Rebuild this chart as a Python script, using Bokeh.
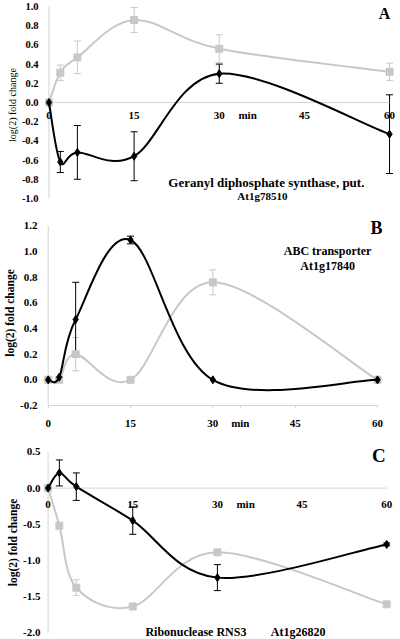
import numpy as np
from bokeh.plotting import figure
from bokeh.models import (Range1d, FixedTicker, Whisker, TeeHead,
                          ColumnDataSource, AllLabels)
from bokeh.layouts import column
from bokeh.embed import file_html
from bokeh.resources import INLINE
from bokeh.core.properties import value

# ---------------- data ----------------
TIME = [0, 2, 5, 15, 30, 60]
X_TICKS = [0, 15, 30, 45, 60]
X_TICK_LABELS = ["0", "15", "30", "45", "60"]
X_UNIT = "min"
X_UNIT_POS = 35

# Panel A  (Geranyl diphosphate synthase)
A_GRAY = [0.0, 0.31, 0.47, 0.86, 0.56, 0.32]
A_GRAY_ERR = [0.0, 0.08, 0.17, 0.13, 0.145, 0.09]
A_BLACK = [0.0, -0.62, -0.52, -0.56, 0.30, -0.33]
A_BLACK_ERR = [0.0, 0.11, 0.28, 0.255, 0.10, 0.41]
A_Y_TICKS = [-1.0, -0.8, -0.6, -0.4, -0.2, 0.0, 0.2, 0.4, 0.6, 0.8, 1.0]

# Panel B  (ABC transporter)
B_GRAY = [0.0, 0.0, 0.20, 0.0, 0.76, 0.0]
B_GRAY_ERR = [0.0, 0.0, 0.13, 0.0, 0.097, 0.0]
B_BLACK = [0.0, 0.02, 0.47, 1.09, 0.0, 0.0]
B_BLACK_ERR = [0.0, 0.0, 0.29, 0.03, 0.0, 0.0]
B_Y_TICKS = [-0.2, 0.0, 0.2, 0.4, 0.6, 0.8, 1.0, 1.2]

# Panel C  (Ribonuclease RNS3)
C_GRAY = [0.0, -0.52, -1.38, -1.64, -0.89, -1.61]
C_GRAY_ERR = [0.0, 0.0, 0.11, 0.0, 0.0, 0.0]
C_BLACK = [0.0, 0.21, 0.02, -0.45, -1.24, -0.78]
C_BLACK_ERR = [0.0, 0.18, 0.19, 0.19, 0.18, 0.02]
C_Y_TICKS = [-2.0, -1.5, -1.0, -0.5, 0.0, 0.5]

Y_TITLE = "log(2) fold change"

# ---------------- style ----------------
GRAY = "#c8c8c8"
AXIS_GRAY = "#d4d4d4"
BLACK = "#000000"
FONT = "Liberation Serif"


def smooth_ctrl(xs, ys):
    x = np.asarray(xs, float)
    y = np.asarray(ys, float)
    n = len(x)
    xp = np.concatenate([[x[0]], x, [x[-1]]])
    yp = np.concatenate([[y[0]], y, [y[-1]]])
    return dict(
        x0=x[:-1], y0=y[:-1], x1=x[1:], y1=y[1:],
        cx0=x[:-1] + (xp[2:n + 1] - xp[0:n - 1]) / 6.0,
        cy0=y[:-1] + (yp[2:n + 1] - yp[0:n - 1]) / 6.0,
        cx1=x[1:] - (xp[3:n + 2] - xp[1:n]) / 6.0,
        cy1=y[1:] - (yp[3:n + 2] - yp[1:n]) / 6.0,
    )


def add_series(p, y, err, color, marker, size):
    p.bezier(source=ColumnDataSource(smooth_ctrl(TIME, y)),
             x0="x0", y0="y0", x1="x1", y1="y1",
             cx0="cx0", cy0="cy0", cx1="cx1", cy1="cy1",
             line_color=color, line_width=2)
    idx = [i for i, e in enumerate(err) if e > 0]
    src = ColumnDataSource(dict(
        x=[TIME[i] for i in idx],
        lo=[y[i] - err[i] for i in idx],
        hi=[y[i] + err[i] for i in idx]))
    w = Whisker(source=src, base="x", lower="lo", upper="hi",
                line_color=color, line_width=1,
                upper_head=TeeHead(size=7, line_color=color, line_width=1),
                lower_head=TeeHead(size=7, line_color=color, line_width=1))
    p.add_layout(w)
    p.scatter(TIME, y, marker=marker, size=size, fill_color=color, line_color=color)


def base_fig(height, xr, yr, bl, bt, bb, br, xloc):
    p = figure(width=400, height=height, x_range=Range1d(*xr), y_range=Range1d(*yr),
               x_axis_location=xloc, y_axis_location="left",
               min_border_left=bl, min_border_top=bt, min_border_bottom=bb,
               min_border_right=br, output_backend="svg", toolbar_location=None)
    p.grid.visible = False
    p.outline_line_color = None
    p.background_fill_color = "white"
    p.border_fill_color = "white"
    return p


def style_yaxis(p, ticks, size, standoff, title_size, title_style):
    ax = p.yaxis[0]
    ax.ticker = FixedTicker(ticks=ticks)
    ax.major_label_overrides = {t: f"{t:.1f}" for t in ticks}
    ax.major_label_policy = AllLabels()
    ax.axis_line_color = None
    ax.major_tick_line_color = None
    ax.minor_tick_line_color = None
    ax.major_tick_in = 0
    ax.major_tick_out = 0
    ax.major_label_standoff = standoff
    ax.major_label_text_font = FONT
    ax.major_label_text_font_style = "bold"
    ax.major_label_text_font_size = size
    ax.major_label_text_color = BLACK
    ax.axis_label = Y_TITLE
    ax.axis_label_standoff = 1
    ax.axis_label_text_font = FONT
    ax.axis_label_text_font_style = title_style
    ax.axis_label_text_font_size = title_size
    ax.axis_label_text_color = BLACK


def txt(p, x, y, s, size, align="center", yoff=0):
    p.text(x=[x], y=[y], text=[s], text_font=value(FONT), text_font_style="bold",
           text_font_size=value(size), text_align=align, text_baseline="middle",
           text_color=BLACK, y_offset=yoff)


def inner_xlabels(p, yoff, size):
    p.text(x=X_TICKS, y=[0] * len(X_TICKS), text=X_TICK_LABELS, text_font=value(FONT),
           text_font_style="bold", text_font_size=value(size), text_align="center",
           text_baseline="middle", text_color=BLACK, y_offset=yoff)
    txt(p, X_UNIT_POS, 0, X_UNIT, size, yoff=yoff)


# ---------------- Panel A ----------------
pA = base_fig(207, (-1.142, 61.23), (-1.094, 1.0417), 41, 2, 0, 4, None)
style_yaxis(pA, A_Y_TICKS, "10.5px", 4, "10px", "normal")
pA.segment(x0=[0], y0=[A_Y_TICKS[0]], x1=[0], y1=[A_Y_TICKS[-1]], line_color=AXIS_GRAY, line_width=1)
pA.segment(x0=[X_TICKS[0]], y0=[0], x1=[X_TICKS[-1]], y1=[0], line_color=AXIS_GRAY, line_width=1)
inner_xlabels(pA, 13, "11px")
add_series(pA, A_GRAY, A_GRAY_ERR, GRAY, "square", 7)
add_series(pA, A_BLACK, A_BLACK_ERR, BLACK, "diamond", 8)
txt(pA, 59.1, 0.93, "A", "16px")
txt(pA, 38.3, -0.833, "Geranyl diphosphate synthase, put.", "13px")
txt(pA, 37.6, -0.969, "At1g78510", "11px")

# ---------------- Panel B ----------------
pB = base_fig(225, (-1.039, 63.46), (-0.2, 1.2419), 42, 13, 27, 4, "below")
style_yaxis(pB, B_Y_TICKS, "11px", 5, "11.5px", "bold")
pB.segment(x0=[0], y0=[B_Y_TICKS[0]], x1=[0], y1=[B_Y_TICKS[-1]], line_color=AXIS_GRAY, line_width=1)
xb = pB.xaxis[0]
xb.bounds = (X_TICKS[0], X_TICKS[-1])
xb.ticker = FixedTicker(ticks=sorted(X_TICKS + [X_UNIT_POS]))
xb.major_label_overrides = {X_UNIT_POS: X_UNIT}
xb.major_label_policy = AllLabels()
xb.axis_line_color = AXIS_GRAY
xb.major_tick_line_color = AXIS_GRAY
xb.minor_tick_line_color = None
xb.major_tick_in = 0
xb.major_tick_out = 3
xb.major_label_standoff = 8
xb.major_label_text_font = FONT
xb.major_label_text_font_style = "bold"
xb.major_label_text_font_size = "11px"
xb.major_label_text_color = BLACK
add_series(pB, B_GRAY, B_GRAY_ERR, GRAY, "square", 7)
add_series(pB, B_BLACK, B_BLACK_ERR, BLACK, "diamond", 8)
txt(pB, 59.8, 1.185, "B", "18px")
txt(pB, 50.9, 1.005, "ABC transporter", "12px")
txt(pB, 50.9, 0.889, "At1g17840", "12px")

# ---------------- Panel C ----------------
pC = base_fig(207, (-0.99, 61.74), (-2.097, 0.59), 35, 13, 0, 4, None)
style_yaxis(pC, C_Y_TICKS, "11px", 2, "11.5px", "bold")
pC.segment(x0=[0], y0=[C_Y_TICKS[0]], x1=[0], y1=[C_Y_TICKS[-1]], line_color=AXIS_GRAY, line_width=1)
pC.segment(x0=[X_TICKS[0]], y0=[0], x1=[X_TICKS[-1]], y1=[0], line_color=AXIS_GRAY, line_width=1)
inner_xlabels(pC, 16, "11px")
add_series(pC, C_GRAY, C_GRAY_ERR, GRAY, "square", 7)
add_series(pC, C_BLACK, C_BLACK_ERR, BLACK, "diamond", 8)
txt(pC, 58.6, 0.45, "C", "19px")
txt(pC, 26.2, -1.99, "Ribonuclease RNS3", "12px")
txt(pC, 44.3, -1.99, "At1g26820", "12px")

layout = column(pA, pB, pC, spacing=0)
open("out.html", "w").write(file_html(layout, INLINE))
